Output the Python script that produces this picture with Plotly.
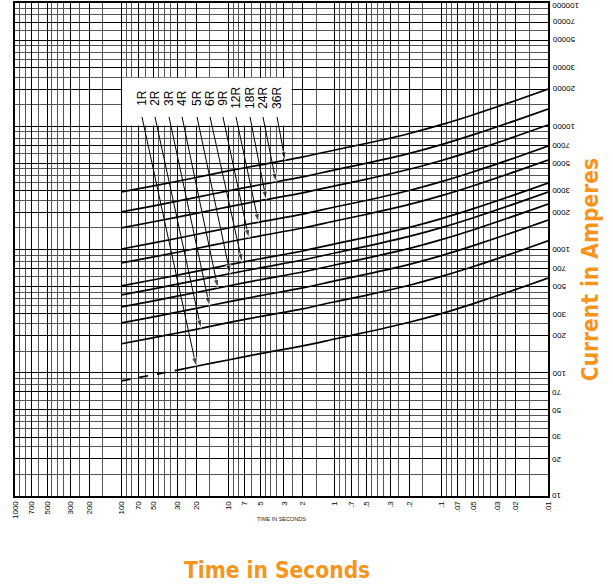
import numpy as np
import plotly.graph_objects as go

# ---------------- data ----------------
TIMES = [100, 50, 20, 10, 5, 2, 1, 0.5, 0.2, 0.1, 0.05, 0.02, 0.01]   # seconds
RATINGS = ["1R", "2R", "3R", "4R", "5R", "6R", "9R", "12R", "18R", "24R", "36R"]

# 1R curve: dashed part (long times) + solid part
T_1R_DASHED = [100, 50, 30]
CUR_1R_DASHED = [86, 96, 105]
T_1R = [30, 20, 10, 5, 2, 1, 0.5, 0.2, 0.1, 0.05, 0.02, 0.01]
CUR_1R = [105, 113, 127, 143, 165, 188, 214, 257, 302, 364, 475, 587]

CUR_2R = [172, 193, 225, 255, 286, 330, 377, 427, 513, 605, 728, 951, 1175]
CUR_3R = [254, 284, 333, 376, 422, 488, 556, 631, 758, 893, 1075, 1404, 1735]
CUR_4R = [342, 383, 448, 506, 568, 657, 749, 850, 1020, 1202, 1447, 1891, 2336]
CUR_5R = [428, 479, 561, 633, 710, 822, 937, 1064, 1277, 1504, 1811, 2366, 2923]
CUR_6R = [507, 568, 664, 750, 842, 973, 1110, 1260, 1512, 1782, 2146, 2803, 3463]
CUR_9R = [778, 871, 1019, 1151, 1291, 1494, 1704, 1933, 2321, 2735, 3293, 4302, 5314]
CUR_12R = [1010, 1131, 1323, 1495, 1677, 1939, 2212, 2510, 3013, 3550, 4274, 5584, 6898]
CUR_18R = [1500, 1680, 1965, 2220, 2490, 2880, 3285, 3728, 4475, 5273, 6348, 8294, 10245]
CUR_24R = [2020, 2262, 2646, 2990, 3353, 3878, 4424, 5020, 6026, 7100, 8549, 11169, 13797]
CUR_36R = [2930, 3280, 3840, 4340, 4860, 5640, 6420, 7280, 8740, 10300, 12400, 16200, 20000]

# where each label's leader line touches its curve (seconds)
ARROW_T = [20, 18, 15, 12.5, 9.6, 7.4, 6.4, 5.2, 4.4, 3.56, 2.93]
# label / leader start positions (seconds) and heights (amperes)
LABEL_T = [64.4, 48.6, 35.9, 27.1, 19.6, 14.8, 11.2, 8.45, 6.24, 4.72, 3.48]
LEADER_TOP_A = 11900
LABEL_A = 17000

# axis ticks
X_TICKS = [1000, 700, 500, 300, 200, 100, 70, 50, 30, 20, 10, 7, 5, 3, 2, 1,
           0.7, 0.5, 0.3, 0.2, 0.1, 0.07, 0.05, 0.03, 0.02, 0.01]
X_TICK_TEXT = ["1000", "700", "500", "300", "200", "100", "70", "50", "30", "20",
               "10", "7", "5", "3", "2", "1", ".7", ".5", ".3", ".2", ".1",
               ".07", ".05", ".03", ".02", ".01"]
Y_TICKS = [10, 20, 30, 50, 70, 100, 200, 300, 500, 700, 1000, 2000, 3000, 5000,
           7000, 10000, 20000, 30000, 50000, 70000, 100000]
Y_TICK_TEXT = ["10", "20", "30", "50", "70", "100", "200", "300", "500", "700",
               "1000", "2000", "3000", "5000", "7000", "10000", "20000", "30000",
               "50000", "70000", "100000"]
MINOR_MULT = [1.5, 2.5, 3.5, 4, 4.5, 6, 8, 9]

# ---------------- figure ----------------
fig = go.Figure()

CURVES = [CUR_1R, CUR_2R, CUR_3R, CUR_4R, CUR_5R, CUR_6R, CUR_9R,
          CUR_12R, CUR_18R, CUR_24R, CUR_36R]
CURVE_T = [T_1R] + [TIMES] * 10

LINE_W = 1.7
fig.add_trace(go.Scatter(x=T_1R_DASHED, y=CUR_1R_DASHED, mode="lines",
                         line=dict(color="black", width=LINE_W, dash="dash"),
                         showlegend=False, hoverinfo="skip"))
for name, ts, cur in zip(RATINGS, CURVE_T, CURVES):
    fig.add_trace(go.Scatter(x=ts, y=cur, mode="lines", name=name,
                             line=dict(color="black", width=LINE_W, shape="spline", smoothing=0.8),
                             showlegend=False, hoverinfo="skip"))

# leader lines with arrowheads
for name, ts, cur, ta, tl in zip(RATINGS, CURVE_T, CURVES, ARROW_T, LABEL_T):
    lt = np.log10(ts)[::-1]
    lc = np.log10(cur)[::-1]
    head_a = 10 ** np.interp(np.log10(ta), lt, lc)
    fig.add_trace(go.Scatter(x=[tl, ta], y=[LEADER_TOP_A, head_a], mode="lines+markers",
                             line=dict(color="black", width=1),
                             marker=dict(symbol="arrow", angleref="previous",
                                         size=[0, 9], color="black"),
                             showlegend=False, hoverinfo="skip"))
    fig.add_annotation(x=np.log10(tl), y=np.log10(LABEL_A), xref="x", yref="y",
                       text=name, textangle=-90, showarrow=False,
                       font=dict(family="Liberation Sans, Arial, sans-serif", size=12, color="black"),
                       xanchor="center", yanchor="middle")

# white box behind the rating labels
fig.add_shape(type="rect", xref="x", yref="y", x0=2.54, x1=98.5, y0=10150, y1=24700,
              fillcolor="white", line=dict(width=0), layer="between")

def minor_vals(lo_exp, hi_exp):
    out = []
    for e in range(lo_exp, hi_exp):
        for m in MINOR_MULT:
            out.append(m * 10 ** e)
    return out

ORANGE = "#F7941D"
TITLE_FONT = "Liberation Sans Narrow, DejaVu Sans Condensed, Arial Narrow, sans-serif"
TICK_FONT = dict(family="Liberation Sans, Arial, sans-serif", size=8, color="black")

fig.add_annotation(x=0.4916, y=-0.150, xref="paper", yref="paper",
                   text="<b>Time in Seconds</b>", showarrow=False,
                   font=dict(family=TITLE_FONT, size=22.5, color=ORANGE),
                   xanchor="center", yanchor="middle")
fig.add_annotation(x=1.0788, y=0.458, xref="paper", yref="paper",
                   text="<b>Current in Amperes</b>", showarrow=False, textangle=-90,
                   font=dict(family=TITLE_FONT, size=22.5, color=ORANGE),
                   xanchor="center", yanchor="middle")
fig.add_annotation(x=0.5, y=-0.047, xref="paper", yref="paper",
                   text="TIME IN SECONDS", showarrow=False,
                   font=dict(family="Liberation Sans, Arial, sans-serif", size=5.5, color="#222"),
                   xanchor="center", yanchor="middle")

# upside-down current labels on the right
for v, txt in zip(Y_TICKS, Y_TICK_TEXT):
    fig.add_annotation(x=1, y=np.log10(v), xref="paper", yref="y",
                       text=txt, textangle=180, showarrow=False, font=TICK_FONT,
                       xanchor="left", yanchor="middle", xshift=2,
                       yshift=(-3 if v == max(Y_TICKS) else 0))

fig.update_xaxes(type="log", range=[3, -2], autorange=False, automargin=False,
                 tickmode="array", tickvals=X_TICKS, ticktext=X_TICK_TEXT,
                 tickangle=-90, tickfont=TICK_FONT, ticks="",
                 showgrid=True, gridcolor="black", gridwidth=1,
                 minor=dict(tickvals=minor_vals(-2, 3), showgrid=True,
                            gridcolor="#555555", gridwidth=1, ticks=""),
                 showline=True, linecolor="black", linewidth=2, mirror=True,
                 zeroline=False, fixedrange=True)
fig.update_yaxes(type="log", range=[1, 5], autorange=False, automargin=False, side="right",
                 tickmode="array", tickvals=Y_TICKS, showticklabels=False, ticks="",
                 showgrid=True, gridcolor="black", gridwidth=1,
                 minor=dict(tickvals=minor_vals(1, 5), showgrid=True,
                            gridcolor="#555555", gridwidth=1, ticks=""),
                 showline=True, linecolor="black", linewidth=1.5, mirror=True,
                 zeroline=False, fixedrange=True)

fig.update_layout(width=613, height=588,
                  margin=dict(l=15, r=65, t=3, b=92, autoexpand=False),
                  paper_bgcolor="white", plot_bgcolor="white",
                  showlegend=False)

fig.write_html("out.html", config={"displayModeBar": False},
               post_script="document.body.style.margin='0px';document.body.style.overflow='hidden';")
